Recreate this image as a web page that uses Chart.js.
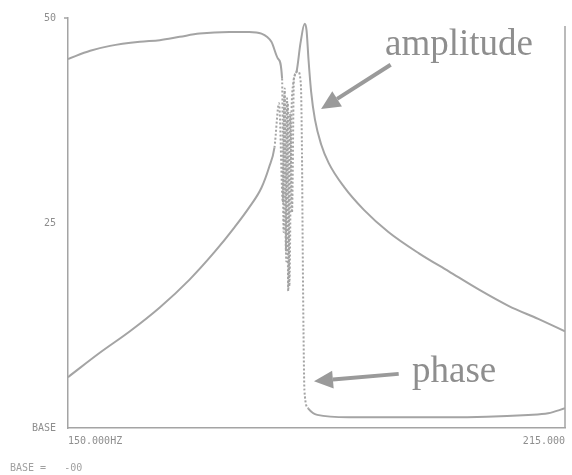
<!DOCTYPE html>
<html>
<head>
<meta charset="utf-8">
<script src="https://cdn.jsdelivr.net/npm/chart.js@4/dist/chart.umd.min.js"></script>
<style>
  html, body { margin: 0; padding: 0; background: #fff; }
  #wrap { width: 572px; height: 475px; }
</style>
</head>
<body>
<div id="wrap"><canvas id="respChart" width="572" height="475"></canvas></div>
<script>
// frequency axis (Hz) and level axis
const freqTicks = [150, 215];
const freqTickLabels = ['150.000HZ', '215.000'];
const levelTicks = [0, 25, 50];
const levelTickLabels = ['BASE', '25', '50'];

// amplitude trace
const ampFreq = [150, 154.2, 158.1, 162.0, 165.9, 169.2, 171.8, 173.7, 175.3, 176.3, 177.0,
  177.6, 178.1, 178.3, 178.55, 178.75, 178.95, 179.2, 179.45, 179.9,
  180.4, 180.95, 181.2, 181.45, 181.8, 182.3, 183.1, 184.1, 186.1, 188.7, 191.9, 195.9,
  199.8, 203.7, 207.6, 211.5, 215];
const ampValue = [6.2, 9.2, 11.8, 14.7, 18.1, 21.5, 24.5, 26.9, 29.3, 31.8, 34.2,
  39.6, 27.5, 40.8, 20.3, 39.6, 17.3, 37.2, 42.0, 43.5,
  46.9, 49.3, 48.5, 45.0, 41.0, 37.6, 34.6, 32.3, 29.4, 26.6, 23.9, 21.3,
  19.1, 16.9, 14.9, 13.3, 11.8];

// phase trace
const phaseFreq = [150, 152.9, 155.5, 159.4, 162.0, 164.6, 167.2, 171.1, 173.7, 175.3, 176.6, 177.5,
  178.0, 178.2, 178.35, 178.5, 178.65, 178.8, 179.05, 179.3, 179.55, 180.05,
  180.45, 180.6, 180.7, 180.8, 180.92, 181.4, 182.6, 186.7, 199.8, 210.2, 212.8, 215];
const phaseValue = [45.0, 46.0, 46.6, 47.1, 47.3, 47.7, 48.1, 48.3, 48.3, 48.1, 47.1, 45.0,
  42.6, 23.9, 41.4, 21.5, 40.2, 16.7, 38.4, 26.3, 42.6, 43.5,
  42.0, 33.6, 21.5, 11.8, 4.6, 2.4, 1.6, 1.3, 1.3, 1.6, 1.8, 2.4];

const ink = '#a4a4a4';
const textInk = '#8e8e8e';
const monoFont = { family: '"DejaVu Sans Mono", monospace', size: 10 };

function toPoints(xs, ys) {
  return xs.map((x, i) => ({ x: x, y: ys[i] }));
}

// dashed where the trace swings through resonance
function dashBetween(lo, hi) {
  return ctx => (ctx.p0.parsed.x >= lo && ctx.p1.parsed.x <= hi) ? [2, 2] : undefined;
}

function arrow(ctx, x0, y0, x1, y1, width) {
  const ang = Math.atan2(y1 - y0, x1 - x0);
  const headLen = 19, headW = 9;
  const bx = x1 - headLen * Math.cos(ang), by = y1 - headLen * Math.sin(ang);
  ctx.beginPath();
  ctx.moveTo(x0, y0);
  ctx.lineTo(bx, by);
  ctx.lineWidth = width;
  ctx.stroke();
  ctx.beginPath();
  ctx.moveTo(x1, y1);
  ctx.lineTo(bx + headW * Math.sin(ang), by - headW * Math.cos(ang));
  ctx.lineTo(bx - headW * Math.sin(ang), by + headW * Math.cos(ang));
  ctx.closePath();
  ctx.fill();
}

const notesPlugin = {
  id: 'notes',
  afterDraw(chart) {
    const ctx = chart.ctx;
    const xs = chart.scales.x, ys = chart.scales.y;
    const area = chart.chartArea;
    ctx.save();

    // right-hand frame line and the little hook at the top of the left axis
    ctx.strokeStyle = ink;
    ctx.lineWidth = 1.5;
    ctx.beginPath();
    ctx.moveTo(area.right, area.top + 8);
    ctx.lineTo(area.right, area.bottom);
    ctx.moveTo(area.left - 4, area.top);
    ctx.lineTo(area.left, area.top);
    ctx.stroke();

    // labels with arrows
    ctx.strokeStyle = '#9a9a9a';
    ctx.fillStyle = '#9a9a9a';
    arrow(ctx, xs.getPixelForValue(192.2), ys.getPixelForValue(44.3),
      xs.getPixelForValue(183.1), ys.getPixelForValue(38.9), 4);
    arrow(ctx, xs.getPixelForValue(193.25), ys.getPixelForValue(6.6),
      xs.getPixelForValue(182.17), ys.getPixelForValue(5.7), 4);

    ctx.fillStyle = textInk;
    ctx.font = '37px "Liberation Serif", serif';
    ctx.textBaseline = 'alphabetic';
    ctx.textAlign = 'left';
    ctx.fillText('amplitude', 385, 55);
    ctx.fillText('phase', 412, 382);

    // base readout under the axis
    ctx.font = '10px "DejaVu Sans Mono", monospace';
    ctx.fillStyle = '#a0a0a0';
    ctx.textBaseline = 'middle';
    ctx.fillText('BASE =   -00', 10, 468);
    ctx.restore();
  }
};

const ctx = document.getElementById('respChart').getContext('2d');
new Chart(ctx, {
  type: 'line',
  data: {
    datasets: [
      {
        label: 'amplitude',
        data: toPoints(ampFreq, ampValue),
        borderColor: ink,
        borderWidth: 2,
        pointRadius: 0,
        cubicInterpolationMode: 'monotone',
        fill: false,
        segment: { borderDash: dashBetween(176.9, 179.95) }
      },
      {
        label: 'phase',
        data: toPoints(phaseFreq, phaseValue),
        borderColor: ink,
        borderWidth: 2,
        pointRadius: 0,
        cubicInterpolationMode: 'monotone',
        fill: false,
        segment: { borderDash: dashBetween(177.9, 181.45) }
      }
    ]
  },
  options: {
    responsive: false,
    animation: false,
    devicePixelRatio: 1,
    layout: { padding: { top: 14, right: 5, left: 0, bottom: 0 } },
    plugins: {
      legend: { display: false },
      tooltip: { enabled: false }
    },
    scales: {
      x: {
        type: 'linear',
        min: 150,
        max: 215,
        afterFit: s => { s.height = 47; },
        afterBuildTicks: s => { s.ticks = freqTicks.map(v => ({ value: v })); },
        grid: { drawOnChartArea: false, drawTicks: false },
        border: { color: ink, width: 1.5 },
        ticks: {
          align: 'inner',
          padding: 7,
          color: textInk,
          font: monoFont,
          maxRotation: 0,
          callback: v => freqTickLabels[freqTicks.indexOf(v)]
        }
      },
      y: {
        type: 'linear',
        min: 0,
        max: 50,
        afterFit: s => { s.width = 68; },
        afterBuildTicks: s => { s.ticks = levelTicks.map(v => ({ value: v })); },
        grid: { drawOnChartArea: false, drawTicks: false },
        border: { color: ink, width: 1.5 },
        ticks: {
          padding: 12,
          color: textInk,
          font: monoFont,
          callback: v => levelTickLabels[levelTicks.indexOf(v)]
        }
      }
    }
  },
  plugins: [notesPlugin]
});
</script>
</body>
</html>
